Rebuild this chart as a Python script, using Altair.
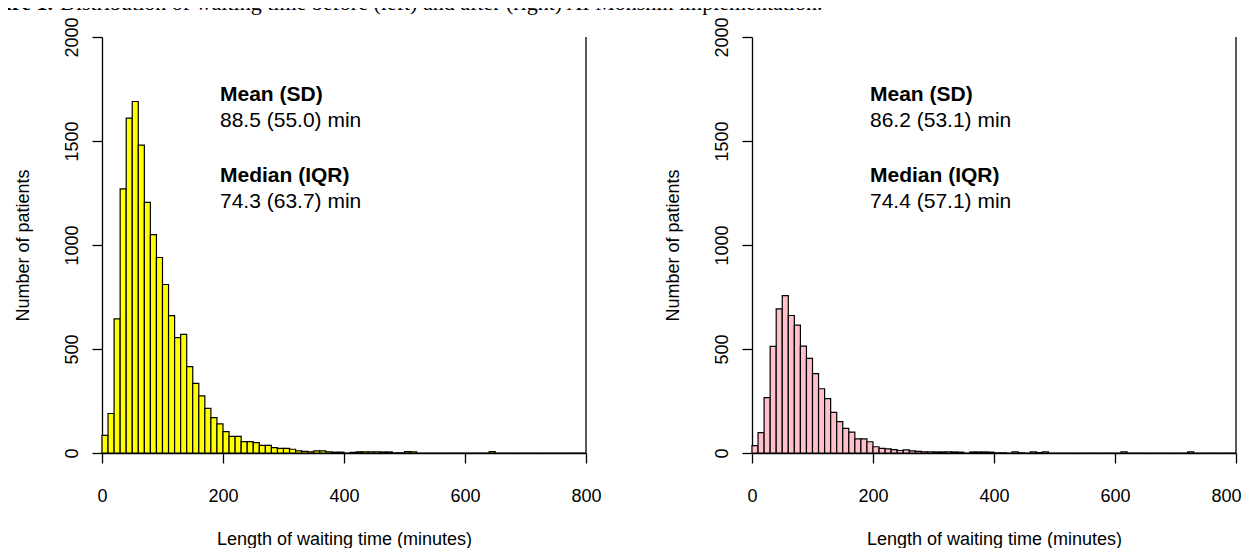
import altair as alt
import pandas as pd

# ---------------- data ----------------
BIN_WIDTH = 10
bin_starts = list(range(0, 800, BIN_WIDTH))

left_counts = [
    85, 190, 645, 1270, 1610, 1690, 1480, 1205, 1050, 940,
    810, 660, 555, 570, 415, 335, 275, 215, 170, 140,
    103, 80, 80, 55, 55, 50, 37, 37, 26, 22,
    22, 18, 10, 8, 6, 10, 10, 6, 4, 4,
    0, 3, 5, 6, 6, 6, 5, 5, 1, 1,
    7, 6, 0, 0, 0, 0, 0, 0, 0, 0,
    0, 0, 0, 0, 7, 0, 0, 0, 0, 0,
    0, 0, 0, 0, 0, 0, 0, 0, 0, 0,
]
right_counts = [
    35, 98, 266, 513, 693, 757, 661, 615, 514, 455,
    382, 309, 261, 195, 151, 118, 100, 68, 68, 54,
    30, 22, 20, 16, 12, 15, 10, 8, 6, 6,
    5, 5, 6, 5, 4, 0, 5, 5, 5, 4,
    1, 1, 0, 6, 1, 0, 6, 2, 6, 0,
    0, 0, 0, 0, 0, 0, 0, 0, 0, 0,
    0, 6, 0, 0, 0, 0, 0, 0, 0, 0,
    0, 0, 6, 0, 0, 0, 0, 0, 0, 0,
]
left_stats = ["Mean (SD)", "88.5 (55.0) min", "Median (IQR)", "74.3 (63.7) min"]
right_stats = ["Mean (SD)", "86.2 (53.1) min", "Median (IQR)", "74.4 (57.1) min"]
x_ticks = [0, 200, 400, 600, 800]
y_ticks = [0, 500, 1000, 1500, 2000]
x_title = "Length of waiting time (minutes)"
y_title = "Number of patients"
caption_bold = "Figure 1."
caption_rest = "Distribution of waiting time before (left) and after (right) AI Monshin implementation."

# ---------------- style ----------------
SANS = "Liberation Sans"
SERIF = "Liberation Serif"
W, H = 484, 416
AXIS_FS = 18
NOTE_FS = 21
LW = 1.3
note_x = 118
note_y = [64, 90, 145, 171]

one_row = alt.Data(values=[{}])


def panel(counts, fill, stats, with_caption=False, last_label_shift=0):
    df = pd.DataFrame({
        "start": bin_starts,
        "end": [s + BIN_WIDTH for s in bin_starts],
        "count": counts,
    })
    xscale = alt.Scale(domain=[0, 800], nice=False, zero=False)
    yscale = alt.Scale(domain=[0, 2000], nice=False)
    common = dict(
        grid=False, tickSize=10, domainColor="black", tickColor="black",
        labelColor="black", titleColor="black", domainWidth=LW, tickWidth=LW,
        labelFont=SANS, titleFont=SANS, labelFontSize=AXIS_FS,
        titleFontSize=AXIS_FS, titleFontWeight="normal", labelFlush=False,
        labelOverlap=False, format="d",
    )
    xaxis = alt.Axis(
        values=x_ticks, title=x_title, labelPadding=24,
        labelOffset={"condition": {"test": "datum.value === 800",
                                   "value": last_label_shift}, "value": 0},
        titleX=W / 2, titleY=91, titleBaseline="alphabetic",
        titleAlign="center", **common)
    yaxis = alt.Axis(values=y_ticks, title=y_title, labelAngle=270,
                     labelAlign="center", labelBaseline="bottom",
                     labelPadding=11, titleAngle=270, titleX=-70, titleY=H / 2,
                     titleAlign="center", titleBaseline="bottom", **common)

    bars = alt.Chart(df).mark_rect(
        fill=fill, stroke="black", strokeWidth=1.2, strokeOpacity=1
    ).encode(
        x=alt.X("start:Q", scale=xscale, axis=xaxis),
        x2="end:Q",
        y=alt.Y("count:Q", scale=yscale, axis=yaxis),
        y2=alt.datum(0),
    )
    right_line = alt.Chart(one_row).mark_rule(color="black", strokeWidth=LW).encode(
        x=alt.datum(800), y=alt.datum(0), y2=alt.datum(2000)
    )
    layers = [bars, right_line]
    for i, s in enumerate(stats):
        layers.append(
            alt.Chart(one_row).mark_text(
                text=s, align="left", baseline="alphabetic", font=SANS,
                fontSize=NOTE_FS, fontWeight="bold" if i % 2 == 0 else "normal",
                color="black",
            ).encode(x=alt.value(note_x), y=alt.value(note_y[i]))
        )
    if with_caption:
        layers.append(
            alt.Chart(one_row).mark_text(
                text=caption_bold, align="left", baseline="alphabetic",
                font=SERIF, fontSize=22, fontWeight="bold", color="black",
            ).encode(x=alt.value(-133), y=alt.value(-27))
        )
        layers.append(
            alt.Chart(one_row).mark_text(
                text=caption_rest, align="left", baseline="alphabetic",
                font=SERIF, fontSize=22, color="black",
            ).encode(x=alt.value(-42), y=alt.value(-27))
        )
    return alt.layer(*layers).properties(
        width=W, height=H, view=alt.ViewBackground(stroke=None, fill=None)
    )


left = panel(left_counts, "#FFFF00", left_stats, with_caption=True)
right = panel(right_counts, "#FFC0CB", right_stats, last_label_shift=-10)

chart = alt.hconcat(left, right, spacing=166, bounds="flush").properties(
    padding={"left": -39, "top": -16, "right": 0, "bottom": -0.5}
).configure_view(stroke=None, strokeWidth=0).configure_axis(
    grid=False
).configure(background="white")

chart.save("out.html", embed_options={"renderer": "svg", "actions": False})
